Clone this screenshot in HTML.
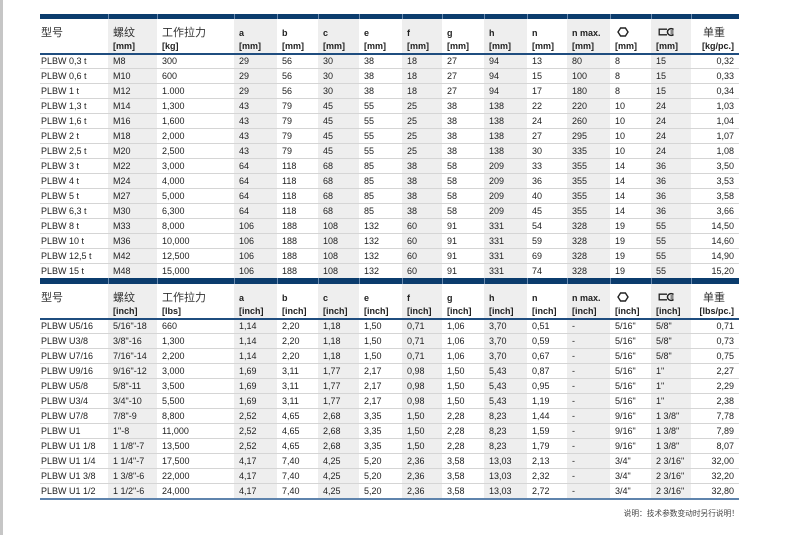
<!DOCTYPE html>
<html><head><meta charset="utf-8">
<style>
*{margin:0;padding:0}
body{width:795px;height:535px;position:relative;background:#fff;overflow:hidden;font-family:"Liberation Sans","Noto Sans CJK SC",sans-serif;color:#222}
.strip{position:absolute;left:0;top:0;width:3px;height:535px;background:#c6c6c6}
.t{position:absolute;left:40px;width:699px}
.bar{display:flex;height:5px;background:#0b3c6d}
.bar span{box-sizing:border-box;border-left:1px solid #6a8bb0;height:100%}
.bar span:first-child{border-left:0}
.h,.r{display:flex}
.h{height:34px}
.h>span{box-sizing:border-box;position:relative;font-size:9px;font-weight:bold;white-space:nowrap}
.h>span div{position:absolute;left:5px;line-height:12.5px;height:12.5px}
.h>span div.l1{top:7.5px}
.h>span div.l2{top:21px}
.h .zh{font-size:11px;font-weight:normal;color:#333}
.h .ic{position:absolute;left:7px;top:8px}
.hl{height:2px;background:#1f4d7f}
.r{height:15px;border-top:1px solid #d5d5d5;box-sizing:border-box;font-size:9px;line-height:14px}
.r.f{height:13px;border-top:0;line-height:13px}
.r>span{box-sizing:border-box;padding-left:5px;white-space:nowrap;overflow:hidden}
.h>span:nth-child(even),.r>span:nth-child(even){background:#eeeeee}
.r>span:first-child{padding-left:1px}
.h>span:first-child div{left:1px}
.r>span:last-child{text-align:right;padding-right:5px}
.h>span:last-child div{left:auto;right:5px}
.h>span:last-child div.l1{right:14px}
.bar span:nth-child(1),.h>span:nth-child(1),.r>span:nth-child(1){width:68px}
.bar span:nth-child(2),.h>span:nth-child(2),.r>span:nth-child(2){width:49px}
.bar span:nth-child(3),.h>span:nth-child(3),.r>span:nth-child(3){width:77px}
.bar span:nth-child(4),.h>span:nth-child(4),.r>span:nth-child(4){width:43px}
.bar span:nth-child(5),.h>span:nth-child(5),.r>span:nth-child(5){width:41px}
.bar span:nth-child(6),.h>span:nth-child(6),.r>span:nth-child(6){width:41px}
.bar span:nth-child(7),.h>span:nth-child(7),.r>span:nth-child(7){width:43px}
.bar span:nth-child(8),.h>span:nth-child(8),.r>span:nth-child(8){width:40px}
.bar span:nth-child(9),.h>span:nth-child(9),.r>span:nth-child(9){width:42px}
.bar span:nth-child(10),.h>span:nth-child(10),.r>span:nth-child(10){width:43px}
.bar span:nth-child(11),.h>span:nth-child(11),.r>span:nth-child(11){width:40px}
.bar span:nth-child(12),.h>span:nth-child(12),.r>span:nth-child(12){width:43px}
.bar span:nth-child(13),.h>span:nth-child(13),.r>span:nth-child(13){width:41px}
.bar span:nth-child(14),.h>span:nth-child(14),.r>span:nth-child(14){width:40px}
.bar span:nth-child(15),.h>span:nth-child(15),.r>span:nth-child(15){width:48px}
.bl{height:2px;background:#5f84ad}
.note{position:absolute;right:56px;top:509px;font-size:7.7px;line-height:10px;color:#444;white-space:nowrap}
</style></head><body>
<div class="strip"></div>

<div class="t" style="top:14px">
<div class="bar"><span></span><span></span><span></span><span></span><span></span><span></span><span></span><span></span><span></span><span></span><span></span><span></span><span></span><span></span><span></span></div>
<div class="h">
<span><div class="l1 zh">型号</div></span>
<span><div class="l1 zh">螺纹</div><div class="l2">[mm]</div></span>
<span><div class="l1 zh">工作拉力</div><div class="l2">[kg]</div></span>
<span><div class="l1">a</div><div class="l2">[mm]</div></span>
<span><div class="l1">b</div><div class="l2">[mm]</div></span>
<span><div class="l1">c</div><div class="l2">[mm]</div></span>
<span><div class="l1">e</div><div class="l2">[mm]</div></span>
<span><div class="l1">f</div><div class="l2">[mm]</div></span>
<span><div class="l1">g</div><div class="l2">[mm]</div></span>
<span><div class="l1">h</div><div class="l2">[mm]</div></span>
<span><div class="l1">n</div><div class="l2">[mm]</div></span>
<span><div class="l1">n max.</div><div class="l2">[mm]</div></span>
<span><svg class="ic" width="12" height="10" viewBox="0 0 12 10"><polygon points="1,5 3.6,1 8.4,1 11,5 8.4,9 3.6,9" fill="none" stroke="#222" stroke-width="1.4"/></svg><div class="l2">[mm]</div></span>
<span><svg class="ic" width="17" height="10" viewBox="0 0 17 10"><path d="M9 2.2 H1.2 V7.8 H9" fill="none" stroke="#222" stroke-width="1.3"/><path d="M15.5 2.5 A3.6 3.4 0 1 0 15.5 7.5" fill="none" stroke="#222" stroke-width="1.5"/><path d="M12.5 4 H15.5 M12.5 6 H15.5" stroke="#222" stroke-width="1"/></svg><div class="l2">[mm]</div></span>
<span><div class="l1 zh">单重</div><div class="l2">[kg/pc.]</div></span>
</div>
<div class="hl"></div>
<div class="r f"><span>PLBW 0,3 t</span><span>M8</span><span>300</span><span>29</span><span>56</span><span>30</span><span>38</span><span>18</span><span>27</span><span>94</span><span>13</span><span>80</span><span>8</span><span>15</span><span>0,32</span></div>
<div class="r"><span>PLBW 0,6 t</span><span>M10</span><span>600</span><span>29</span><span>56</span><span>30</span><span>38</span><span>18</span><span>27</span><span>94</span><span>15</span><span>100</span><span>8</span><span>15</span><span>0,33</span></div>
<div class="r"><span>PLBW 1 t</span><span>M12</span><span>1.000</span><span>29</span><span>56</span><span>30</span><span>38</span><span>18</span><span>27</span><span>94</span><span>17</span><span>180</span><span>8</span><span>15</span><span>0,34</span></div>
<div class="r"><span>PLBW 1,3 t</span><span>M14</span><span>1,300</span><span>43</span><span>79</span><span>45</span><span>55</span><span>25</span><span>38</span><span>138</span><span>22</span><span>220</span><span>10</span><span>24</span><span>1,03</span></div>
<div class="r"><span>PLBW 1,6 t</span><span>M16</span><span>1,600</span><span>43</span><span>79</span><span>45</span><span>55</span><span>25</span><span>38</span><span>138</span><span>24</span><span>260</span><span>10</span><span>24</span><span>1,04</span></div>
<div class="r"><span>PLBW 2 t</span><span>M18</span><span>2,000</span><span>43</span><span>79</span><span>45</span><span>55</span><span>25</span><span>38</span><span>138</span><span>27</span><span>295</span><span>10</span><span>24</span><span>1,07</span></div>
<div class="r"><span>PLBW 2,5 t</span><span>M20</span><span>2,500</span><span>43</span><span>79</span><span>45</span><span>55</span><span>25</span><span>38</span><span>138</span><span>30</span><span>335</span><span>10</span><span>24</span><span>1,08</span></div>
<div class="r"><span>PLBW 3 t</span><span>M22</span><span>3,000</span><span>64</span><span>118</span><span>68</span><span>85</span><span>38</span><span>58</span><span>209</span><span>33</span><span>355</span><span>14</span><span>36</span><span>3,50</span></div>
<div class="r"><span>PLBW 4 t</span><span>M24</span><span>4,000</span><span>64</span><span>118</span><span>68</span><span>85</span><span>38</span><span>58</span><span>209</span><span>36</span><span>355</span><span>14</span><span>36</span><span>3,53</span></div>
<div class="r"><span>PLBW 5 t</span><span>M27</span><span>5,000</span><span>64</span><span>118</span><span>68</span><span>85</span><span>38</span><span>58</span><span>209</span><span>40</span><span>355</span><span>14</span><span>36</span><span>3,58</span></div>
<div class="r"><span>PLBW 6,3 t</span><span>M30</span><span>6,300</span><span>64</span><span>118</span><span>68</span><span>85</span><span>38</span><span>58</span><span>209</span><span>45</span><span>355</span><span>14</span><span>36</span><span>3,66</span></div>
<div class="r"><span>PLBW 8 t</span><span>M33</span><span>8,000</span><span>106</span><span>188</span><span>108</span><span>132</span><span>60</span><span>91</span><span>331</span><span>54</span><span>328</span><span>19</span><span>55</span><span>14,50</span></div>
<div class="r"><span>PLBW 10 t</span><span>M36</span><span>10,000</span><span>106</span><span>188</span><span>108</span><span>132</span><span>60</span><span>91</span><span>331</span><span>59</span><span>328</span><span>19</span><span>55</span><span>14,60</span></div>
<div class="r"><span>PLBW 12,5 t</span><span>M42</span><span>12,500</span><span>106</span><span>188</span><span>108</span><span>132</span><span>60</span><span>91</span><span>331</span><span>69</span><span>328</span><span>19</span><span>55</span><span>14,90</span></div>
<div class="r"><span>PLBW 15 t</span><span>M48</span><span>15,000</span><span>106</span><span>188</span><span>108</span><span>132</span><span>60</span><span>91</span><span>331</span><span>74</span><span>328</span><span>19</span><span>55</span><span>15,20</span></div>
</div>

<div class="t" style="top:278px">
<div class="bar" style="height:6px"><span></span><span></span><span></span><span></span><span></span><span></span><span></span><span></span><span></span><span></span><span></span><span></span><span></span><span></span><span></span></div>
<div class="h">
<span><div class="l1 zh">型号</div></span>
<span><div class="l1 zh">螺纹</div><div class="l2">[inch]</div></span>
<span><div class="l1 zh">工作拉力</div><div class="l2">[lbs]</div></span>
<span><div class="l1">a</div><div class="l2">[inch]</div></span>
<span><div class="l1">b</div><div class="l2">[inch]</div></span>
<span><div class="l1">c</div><div class="l2">[inch]</div></span>
<span><div class="l1">e</div><div class="l2">[inch]</div></span>
<span><div class="l1">f</div><div class="l2">[inch]</div></span>
<span><div class="l1">g</div><div class="l2">[inch]</div></span>
<span><div class="l1">h</div><div class="l2">[inch]</div></span>
<span><div class="l1">n</div><div class="l2">[inch]</div></span>
<span><div class="l1">n max.</div><div class="l2">[inch]</div></span>
<span><svg class="ic" width="12" height="10" viewBox="0 0 12 10"><polygon points="1,5 3.6,1 8.4,1 11,5 8.4,9 3.6,9" fill="none" stroke="#222" stroke-width="1.4"/></svg><div class="l2">[inch]</div></span>
<span><svg class="ic" width="17" height="10" viewBox="0 0 17 10"><path d="M9 2.2 H1.2 V7.8 H9" fill="none" stroke="#222" stroke-width="1.3"/><path d="M15.5 2.5 A3.6 3.4 0 1 0 15.5 7.5" fill="none" stroke="#222" stroke-width="1.5"/><path d="M12.5 4 H15.5 M12.5 6 H15.5" stroke="#222" stroke-width="1"/></svg><div class="l2">[inch]</div></span>
<span><div class="l1 zh">单重</div><div class="l2">[lbs/pc.]</div></span>
</div>
<div class="hl"></div>
<div class="r f"><span>PLBW U5/16</span><span>5/16"-18</span><span>660</span><span>1,14</span><span>2,20</span><span>1,18</span><span>1,50</span><span>0,71</span><span>1,06</span><span>3,70</span><span>0,51</span><span>-</span><span>5/16"</span><span>5/8"</span><span>0,71</span></div>
<div class="r"><span>PLBW U3/8</span><span>3/8"-16</span><span>1,300</span><span>1,14</span><span>2,20</span><span>1,18</span><span>1,50</span><span>0,71</span><span>1,06</span><span>3,70</span><span>0,59</span><span>-</span><span>5/16"</span><span>5/8"</span><span>0,73</span></div>
<div class="r"><span>PLBW U7/16</span><span>7/16"-14</span><span>2,200</span><span>1,14</span><span>2,20</span><span>1,18</span><span>1,50</span><span>0,71</span><span>1,06</span><span>3,70</span><span>0,67</span><span>-</span><span>5/16"</span><span>5/8"</span><span>0,75</span></div>
<div class="r"><span>PLBW U9/16</span><span>9/16"-12</span><span>3,000</span><span>1,69</span><span>3,11</span><span>1,77</span><span>2,17</span><span>0,98</span><span>1,50</span><span>5,43</span><span>0,87</span><span>-</span><span>5/16"</span><span>1"</span><span>2,27</span></div>
<div class="r"><span>PLBW U5/8</span><span>5/8"-11</span><span>3,500</span><span>1,69</span><span>3,11</span><span>1,77</span><span>2,17</span><span>0,98</span><span>1,50</span><span>5,43</span><span>0,95</span><span>-</span><span>5/16"</span><span>1"</span><span>2,29</span></div>
<div class="r"><span>PLBW U3/4</span><span>3/4"-10</span><span>5,500</span><span>1,69</span><span>3,11</span><span>1,77</span><span>2,17</span><span>0,98</span><span>1,50</span><span>5,43</span><span>1,19</span><span>-</span><span>5/16"</span><span>1"</span><span>2,38</span></div>
<div class="r"><span>PLBW U7/8</span><span>7/8"-9</span><span>8,800</span><span>2,52</span><span>4,65</span><span>2,68</span><span>3,35</span><span>1,50</span><span>2,28</span><span>8,23</span><span>1,44</span><span>-</span><span>9/16"</span><span>1 3/8"</span><span>7,78</span></div>
<div class="r"><span>PLBW U1</span><span>1"-8</span><span>11,000</span><span>2,52</span><span>4,65</span><span>2,68</span><span>3,35</span><span>1,50</span><span>2,28</span><span>8,23</span><span>1,59</span><span>-</span><span>9/16"</span><span>1 3/8"</span><span>7,89</span></div>
<div class="r"><span>PLBW U1 1/8</span><span>1 1/8"-7</span><span>13,500</span><span>2,52</span><span>4,65</span><span>2,68</span><span>3,35</span><span>1,50</span><span>2,28</span><span>8,23</span><span>1,79</span><span>-</span><span>9/16"</span><span>1 3/8"</span><span>8,07</span></div>
<div class="r"><span>PLBW U1 1/4</span><span>1 1/4"-7</span><span>17,500</span><span>4,17</span><span>7,40</span><span>4,25</span><span>5,20</span><span>2,36</span><span>3,58</span><span>13,03</span><span>2,13</span><span>-</span><span>3/4"</span><span>2 3/16"</span><span>32,00</span></div>
<div class="r"><span>PLBW U1 3/8</span><span>1 3/8"-6</span><span>22,000</span><span>4,17</span><span>7,40</span><span>4,25</span><span>5,20</span><span>2,36</span><span>3,58</span><span>13,03</span><span>2,32</span><span>-</span><span>3/4"</span><span>2 3/16"</span><span>32,20</span></div>
<div class="r"><span>PLBW U1 1/2</span><span>1 1/2"-6</span><span>24,000</span><span>4,17</span><span>7,40</span><span>4,25</span><span>5,20</span><span>2,36</span><span>3,58</span><span>13,03</span><span>2,72</span><span>-</span><span>3/4"</span><span>2 3/16"</span><span>32,80</span></div>
<div class="bl"></div>
</div>

<div class="note">说明：技术参数变动时另行说明！</div>
</body></html>
